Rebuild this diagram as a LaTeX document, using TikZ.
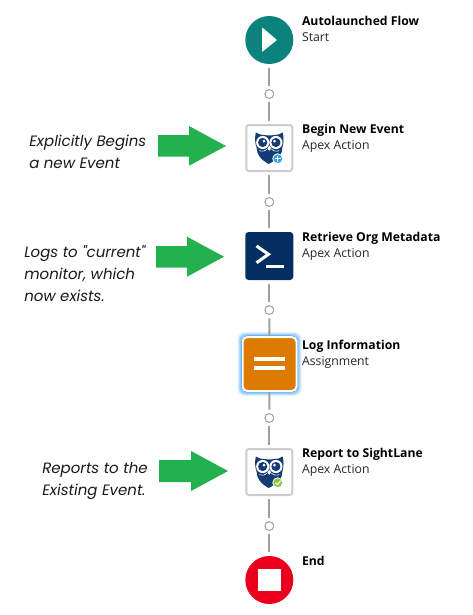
\documentclass[tikz,border=0pt]{standalone}
\usepackage{fontspec}
\setmainfont{Open Sans}
\newfontfamily\notefont{Poppins}
\usetikzlibrary{shapes.geometric}
\definecolor{teal1}{HTML}{0B827C}
\definecolor{navy1}{HTML}{032E61}
\definecolor{owlblue}{HTML}{143B74}
\definecolor{orange1}{HTML}{DD7A01}
\definecolor{red1}{HTML}{EA001E}
\definecolor{conn1}{HTML}{A0A0A0}
\definecolor{green1}{HTML}{22B14C}
\definecolor{glow1}{HTML}{1589EE}
\definecolor{plus1}{HTML}{2E9FE0}
\definecolor{check1}{HTML}{8CC63F}
\tikzset{
  x=0.75pt,y=-0.75pt,
  conn/.style={draw=conn1,line width=1.5pt,shorten <=2.6pt,shorten >=2.6pt},
  dotnode/.style={circle,draw=conn1,line width=0.75pt,fill=white,minimum size=6.6pt,inner sep=0pt},
  roundnode/.style={circle,minimum size=36pt,inner sep=0pt},
  boxnode/.style={rectangle,rounded corners=2pt,minimum size=34.5pt,inner sep=0pt,draw=black!20,line width=1.5pt,fill=white},
  navynode/.style={rectangle,rounded corners=2.5pt,minimum size=36pt,inner sep=0pt,fill=navy1},
  lognode/.style={rectangle,rounded corners=3.5pt,minimum size=40.5pt,inner sep=0pt,fill=orange1,draw=white,line width=1.5pt},
  titletext/.style={anchor=base west,inner sep=0pt,font=\fontsize{9.15pt}{11pt}\selectfont\bfseries,text=black},
  subtext/.style={anchor=base west,inner sep=0pt,font=\fontsize{9.2pt}{11pt}\selectfont,text=black!85},
  notetext/.style={anchor=base west,inner sep=0pt,font=\fontsize{11.25pt}{13pt}\notefont\itshape,text=black!90},
  greenarrow/.style={fill=green1,draw=none},
}
\newcommand{\owlicon}[3]{%
  \begin{scope}[shift={(#1,#2)}]
    \fill[owlblue] (-13.5,-15.5) .. controls (-10.5,-13.5) and (-8,-13) .. (-5,-13)
      .. controls (-2,-12.4) and (2,-12.4) .. (5,-13)
      .. controls (8,-13) and (10.5,-13.5) .. (13.5,-15.5)
      .. controls (14.5,-10) and (14.5,-5) .. (13.2,-1)
      .. controls (13.4,6) and (8,11.5) .. (-0.5,16)
      .. controls (-8,12) and (-12.6,7) .. (-12.6,0)
      .. controls (-14.5,-5) and (-14.5,-10) .. (-13.5,-15.5) -- cycle;
    \foreach \s in {-1,1}{
      \fill[white] (\s*6.6,-5.5) circle (6.6);
      \fill[owlblue] (\s*6.6,-5.5) circle (4.6);
      \fill[white] (\s*5.2,-6.9) circle (1.5);
    }
    \fill[white] (0,-2.5) -- (1.9,0.4) -- (0,2.8) -- (-1.9,0.4) -- cycle;
    \draw[white,line width=0.45pt] (-10,2.6) .. controls (-6.5,3.8) and (-4,3) .. (-2.2,1.3);
    \draw[white,line width=0.45pt] (10,2.6) .. controls (6.5,3.8) and (4,3) .. (2.2,1.3);
    \fill[white] (8.4,10.7) circle (5.4);
    \fill[#3] (8.4,10.7) circle (4.4);
  \end{scope}}
\begin{document}
\begin{tikzpicture}
\useasboundingbox (0,0) rectangle (473,615);
% nodes
\node[roundnode,fill=teal1] (start) at (269.3,40) {};
\node[dotnode] (d1) at (269.3,94) {};
\node[boxnode] (begin) at (269.3,148) {};
\node[dotnode] (d2) at (269.3,202) {};
\node[navynode] (retrieve) at (269.3,256) {};
\node[dotnode] (d3) at (269.3,310) {};
\foreach \g/\o in {32/0.10,31/0.16,30/0.24}{
  \fill[glow1,opacity=\o,rounded corners=5pt] (269.5-\g,364-\g) rectangle (269.5+\g,364+\g);
}
\fill[glow1,rounded corners=5pt] (241,335.7) rectangle (297.8,392.3);
\node[lognode] (log) at (269.5,364) {};
\node[dotnode] (d4) at (269.3,418) {};
\node[boxnode] (report) at (269.3,472) {};
\node[dotnode] (d5) at (269.3,526) {};
\node[roundnode,fill=red1] (end) at (269.3,580) {};
% connectors
\draw[conn] (start) -- (d1);
\draw[conn] (d1) -- (begin);
\draw[conn] (begin) -- (d2);
\draw[conn] (d2) -- (retrieve);
\draw[conn] (retrieve) -- (d3);
\draw[conn,shorten >=0pt] (d3) -- (log);
\draw[conn,shorten <=0pt] (log) -- (d4);
\draw[conn] (d4) -- (report);
\draw[conn] (report) -- (d5);
\draw[conn] (d5) -- (end);
% icons
\fill[white,rounded corners=0.6pt] (262,27.3) -- (277,40) -- (262,52) -- cycle;
\owlicon{269.3}{148}{plus1}
\draw[white,line width=0.75pt] (274.9,158.7) -- (280.9,158.7) (277.7,155.7) -- (277.7,161.7);
\draw[white,line width=2.3pt,line join=miter] (256.5,246) -- (268.5,254.3) -- (256.5,262.7);
\fill[white] (266,264.5) rectangle (284,267.5);
\fill[white] (254,357.3) rectangle (284.6,361.3);
\fill[white] (254,366.3) rectangle (284.6,370.3);
\owlicon{269.3}{472}{check1}
\draw[white,line width=0.75pt] (275.3,482.8) -- (277.2,484.6) -- (280.7,480.8);
\fill[white] (258.3,569) rectangle (280.7,591.3);
% labels
\node[titletext] (t1) at (301.8,25.5) {Autolaunched Flow};
\node[subtext] (s1) at (301.8,41) {Start};
\node[titletext] (t2) at (301.8,133.3) {Begin New Event};
\node[subtext] (s2) at (301.8,149) {Apex Action};
\node[titletext] (t3) at (301.8,241.3) {Retrieve Org Metadata};
\node[subtext] (s3) at (301.8,257) {Apex Action};
\node[titletext] (t4) at (301.8,349.3) {Log Information};
\node[subtext] (s4) at (301.8,365) {Assignment};
\node[titletext] (t5) at (301.8,457.3) {Report to SightLane};
\node[subtext] (s5) at (301.8,473) {Apex Action};
\node[titletext] (t6) at (301.8,565) {End};
% annotations
\node[notetext] (n1a) at (29,146) {Explicitly Begins};
\node[notetext] (n1b) at (29,168) {a new Event};
\node[notetext] (n2a) at (24,257.7) {Logs to "current"};
\node[notetext] (n2b) at (24,279.7) {monitor, which};
\node[notetext] (n2c) at (24,301.7) {now exists.};
\node[notetext] (n3a) at (42,473) {Reports to the};
\node[notetext] (n3b) at (42,495) {Existing Event.};
% green arrows
\fill[greenarrow] (158,135) -- (189,135) -- (189,126) -- (226,146) -- (189,165.7) -- (189,156.7) -- (158,156.7) -- cycle;
\fill[greenarrow] (156,246) -- (187,246) -- (187,236.7) -- (224,256.7) -- (187,276.7) -- (187,267.5) -- (156,267.5) -- cycle;
\fill[greenarrow] (159,460) -- (191,460) -- (191,451) -- (228,471) -- (191,491) -- (191,482) -- (159,482) -- cycle;
\end{tikzpicture}
\end{document}
